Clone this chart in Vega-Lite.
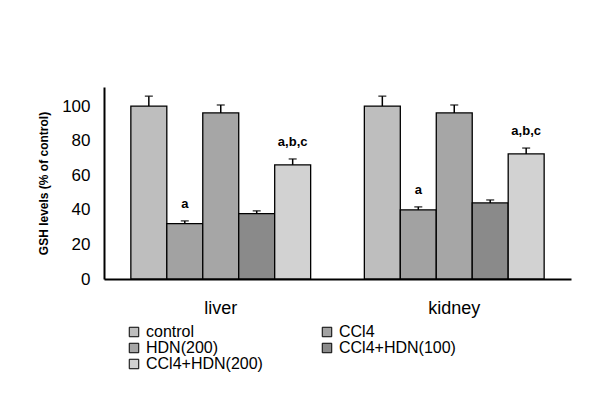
{
  "$schema": "https://vega.github.io/schema/vega-lite/v6.json",
  "width": 467,
  "height": 192,
  "padding": {"left": 104, "top": 87, "right": 29, "bottom": 131},
  "autosize": {"type": "none"},
  "background": "white",
  "config": {
    "font": "Liberation Sans",
    "view": {"stroke": null}
  },
  "data": {
    "values": [
      {"organ": "liver", "group": "control", "value": 100, "high": 105.7, "label": ""},
      {"organ": "liver", "group": "CCl4", "value": 32, "high": 33.6, "label": "a"},
      {"organ": "liver", "group": "HDN(200)", "value": 96, "high": 100.6, "label": ""},
      {"organ": "liver", "group": "CCl4+HDN(100)", "value": 37.8, "high": 39.4, "label": ""},
      {"organ": "liver", "group": "CCl4+HDN(200)", "value": 66, "high": 69.4, "label": "a,b,c"},
      {"organ": "kidney", "group": "control", "value": 100, "high": 105.7, "label": ""},
      {"organ": "kidney", "group": "CCl4", "value": 40, "high": 41.7, "label": "a"},
      {"organ": "kidney", "group": "HDN(200)", "value": 96, "high": 100.6, "label": ""},
      {"organ": "kidney", "group": "CCl4+HDN(100)", "value": 44, "high": 45.7, "label": ""},
      {"organ": "kidney", "group": "CCl4+HDN(200)", "value": 72.3, "high": 75.7, "label": "a,b,c"}
    ]
  },
  "encoding": {
    "x": {
      "field": "organ", "type": "nominal", "sort": ["liver", "kidney"],
      "scale": {"paddingInner": 0.23, "paddingOuter": 0.115},
      "axis": {"title": null, "labelAngle": 0, "labelFontSize": 18, "labelColor": "black", "labelPadding": 20, "ticks": false, "domainColor": "black", "domainWidth": 2}
    },
    "xOffset": {
      "field": "group", "type": "nominal",
      "sort": ["control", "CCl4", "HDN(200)", "CCl4+HDN(100)", "CCl4+HDN(200)"],
      "scale": {"paddingInner": 0, "paddingOuter": 0}
    }
  },
  "layer": [
    {
      "mark": {"type": "bar", "stroke": "black", "strokeWidth": 1.3, "opacity": 1},
      "encoding": {
        "y": {
          "field": "value", "type": "quantitative",
          "scale": {"domain": [0, 111], "nice": false},
          "axis": {
            "title": "GSH levels (% of control)", "titleFontSize": 12, "titleFontWeight": "bold", "titleColor": "black", "titlePadding": 11,
            "tickCount": 6, "tickMinStep": 20, "labelFontSize": 17, "labelColor": "black", "labelPadding": 14, "labelOverlap": false, "labelFlush": false,
            "ticks": false, "grid": false, "domainColor": "black", "domainWidth": 2
          }
        },
        "fill": {
          "field": "group", "type": "nominal",
          "sort": ["control", "CCl4", "HDN(200)", "CCl4+HDN(100)", "CCl4+HDN(200)"],
          "scale": {
            "domain": ["control", "CCl4", "HDN(200)", "CCl4+HDN(100)", "CCl4+HDN(200)"],
            "range": ["#bebebe", "#a2a2a2", "#a6a6a6", "#8a8a8a", "#d2d2d2"]
          },
          "legend": {
            "title": null, "orient": "none", "legendX": 22, "legendY": 237, "direction": "horizontal",
            "columns": 2, "columnPadding": 56, "rowPadding": 0,
            "symbolType": "square", "symbolSize": 90, "symbolStrokeColor": "black", "symbolStrokeWidth": 1,
            "labelFontSize": 16, "labelColor": "black", "labelOffset": 4, "symbolOpacity": 1
          }
        }
      }
    },
    {
      "mark": {"type": "rule", "color": "black", "strokeWidth": 1.5},
      "encoding": {
        "y": {"field": "value", "type": "quantitative"},
        "y2": {"field": "high"}
      }
    },
    {
      "mark": {"type": "tick", "color": "black", "thickness": 1.5, "size": 8},
      "encoding": {
        "y": {"field": "high", "type": "quantitative"}
      }
    },
    {
      "mark": {"type": "text", "fontWeight": "bold", "fontSize": 13, "dy": -17, "baseline": "middle", "color": "black"},
      "encoding": {
        "y": {"field": "high", "type": "quantitative"},
        "text": {"field": "label"}
      }
    }
  ]
}
